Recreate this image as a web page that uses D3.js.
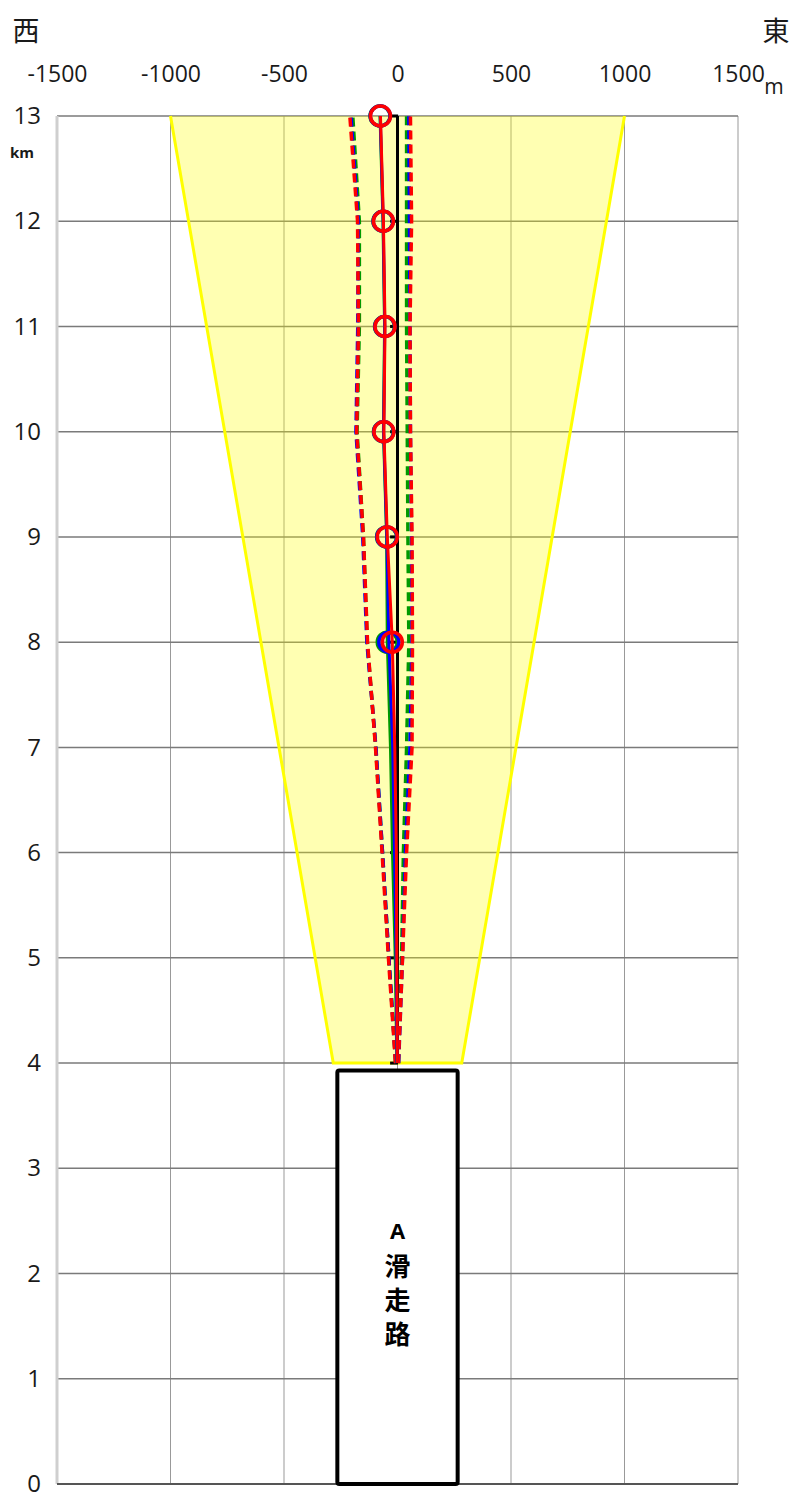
<!DOCTYPE html>
<html>
<head>
<meta charset="utf-8">
<script src="https://cdn.jsdelivr.net/npm/d3@7"></script>
<style>
  body { margin: 0; background: #fff; }
  svg text { font-family: "Open Sans", "Noto Sans", sans-serif; fill: #1a1a1a; }
  .cjk { font-family: "Noto Sans CJK JP", sans-serif !important; }
</style>
</head>
<body>
<div id="chart"></div>
<script>
// distance from threshold (km)
const kms = [4, 5, 6, 7, 8, 9, 10, 11, 12, 13];
// lateral position (m), negative = west
const redMean = [-1, -3, -5, -12, -23, -45, -60, -55, -62, -75];
const blueMean = [-2, -6, -13, -21, -38, -47, -61, -56, -63, -76];
const greenMean = [-3, -10, -22, -31, -45, -48, -62, -57, -64, -77];
const redLower = [-9, -40, -68, -97, -132, -150, -180, -172, -176, -210];
const blueLower = [-8, -38, -66, -95, -135, -153, -183, -175, -173, -205];
const greenLower = [-8, -38, -66, -96, -133, -150, -178, -168, -168, -197];
const redUpper = [4, 22, 40, 64, 66, 64, 57, 55, 62, 57];
const blueUpper = [5, 22, 35, 55, 64, 62, 57, 55, 53, 50];
const greenUpper = [4, 18, 26, 40, 50, 46, 43, 40, 40, 40];
const markerKms = [8, 9, 10, 11, 12, 13];
const centerTickOffset = -15;

const xTicks = [-1500, -1000, -500, 0, 500, 1000, 1500];
const yTicks = [0, 1, 2, 3, 4, 5, 6, 7, 8, 9, 10, 11, 12, 13];

const approachX = [-1000, -283, 283, 1000];
const approachKm = [13, 4, 4, 13];
const runwayX = [-265, 265];
const runwayKm = [0, 3.93];
const runwayLabel = ["A", "滑", "走", "路"];

const width = 791, height = 1494;
const x = d3.scaleLinear().domain([-1500, 1500]).range([57, 738]);
const y = d3.scaleLinear().domain([0, 13]).range([1484, 116]);

const svg = d3.select("#chart").append("svg")
  .attr("width", width)
  .attr("height", height);

// grid
svg.append("g").selectAll("line")
  .data(xTicks.slice(1))
  .join("line")
  .attr("x1", d => x(d)).attr("x2", d => x(d))
  .attr("y1", y(13)).attr("y2", y(0))
  .attr("stroke", "#999").attr("stroke-width", 1);

svg.append("g").selectAll("line")
  .data(yTicks.slice(1))
  .join("line")
  .attr("x1", x(-1500)).attr("x2", x(1500))
  .attr("y1", d => y(d)).attr("y2", d => y(d))
  .attr("stroke", "#7a7a7a").attr("stroke-width", 1.5);

svg.append("line")
  .attr("x1", x(-1500)).attr("x2", x(-1500))
  .attr("y1", y(13)).attr("y2", y(0))
  .attr("stroke", "#cfcfcf").attr("stroke-width", 3);
svg.append("line")
  .attr("x1", x(-1500)).attr("x2", x(1500))
  .attr("y1", y(0)).attr("y2", y(0))
  .attr("stroke", "#555").attr("stroke-width", 2);

// approach area
const approach = approachX.map((v, i) => [x(v), y(approachKm[i])]);
svg.append("path")
  .attr("d", d3.line()(approach) + "Z")
  .attr("fill", "#ffff00").attr("fill-opacity", 0.3);
svg.append("path")
  .attr("d", d3.line()(approach))
  .attr("fill", "none").attr("stroke", "#ffff00").attr("stroke-width", 3);

// runway
svg.append("rect")
  .attr("x", x(runwayX[0])).attr("y", y(runwayKm[1]))
  .attr("width", x(runwayX[1]) - x(runwayX[0]))
  .attr("height", y(runwayKm[0]) - y(runwayKm[1]))
  .attr("rx", 2)
  .attr("fill", "#fff").attr("stroke", "#000").attr("stroke-width", 4);

svg.append("g").selectAll("text")
  .data(runwayLabel)
  .join("text")
  .attr("class", (d, i) => i ? "cjk" : null)
  .attr("x", x(0))
  .attr("y", (d, i) => 1239 + i * 34 + (i ? 3 : 0))
  .attr("text-anchor", "middle")
  .attr("font-weight", "bold")
  .attr("font-size", (d, i) => i ? 26 : 22)
  .style("fill", "#000")
  .text(d => d);

// centre line
svg.append("line")
  .attr("x1", x(0)).attr("x2", x(0))
  .attr("y1", y(4)).attr("y2", y(13))
  .attr("stroke", "#000").attr("stroke-width", 3);
svg.append("g").selectAll("rect")
  .data(kms)
  .join("rect")
  .attr("x", x(centerTickOffset) - 4)
  .attr("y", d => y(d) - 1.5)
  .attr("width", 8).attr("height", 3)
  .attr("fill", "#000");

const line = d3.line().x(d => x(d[0])).y(d => y(d[1]));
const series = [
  { color: "#009a00", mean: greenMean, lower: greenLower, upper: greenUpper },
  { color: "#0000ff", mean: blueMean, lower: blueLower, upper: blueUpper },
  { color: "#ff0000", mean: redMean, lower: redLower, upper: redUpper }
];

series.forEach(s => {
  [s.lower, s.upper].forEach(vals => {
    svg.append("path")
      .attr("d", line(vals.map((v, i) => [v, kms[i]])))
      .attr("fill", "none")
      .attr("stroke", s.color)
      .attr("stroke-width", 3.5)
      .attr("stroke-dasharray", "9,5");
  });
});

series.forEach(s => {
  svg.append("path")
    .attr("d", line(s.mean.map((v, i) => [v, kms[i]])))
    .attr("fill", "none")
    .attr("stroke", s.color)
    .attr("stroke-width", 3);
  svg.append("g").selectAll("circle")
    .data(markerKms)
    .join("circle")
    .attr("cx", k => x(s.mean[kms.indexOf(k)]))
    .attr("cy", k => y(k))
    .attr("r", 10)
    .attr("fill", "none")
    .attr("stroke", s.color)
    .attr("stroke-width", 3.5);
});

// axes
const xAxis = svg.append("g")
  .attr("transform", "translate(0,90)")
  .call(d3.axisTop(x).tickValues(xTicks).tickSize(0).tickPadding(8).tickFormat(d => String(d)));
xAxis.select(".domain").remove();
xAxis.selectAll("text").attr("font-size", 23).style("font-family", "'Open Sans', sans-serif");

const yAxis = svg.append("g")
  .attr("transform", `translate(${x(-1500)},0)`)
  .call(d3.axisLeft(y).tickValues(yTicks).tickSize(0).tickPadding(16).tickFormat(d => String(d)));
yAxis.select(".domain").remove();
yAxis.selectAll("text").attr("font-size", 24).style("font-family", "'Open Sans', sans-serif");

svg.append("text").attr("x", 774).attr("y", 94)
  .attr("text-anchor", "middle").attr("font-size", 21).text("m");
svg.append("text").attr("x", 22).attr("y", 158)
  .attr("text-anchor", "middle").attr("font-size", 15).attr("font-weight", "bold").text("km");
svg.append("text").attr("class", "cjk").attr("x", 26).attr("y", 41)
  .attr("text-anchor", "middle").attr("font-size", 27).text("西");
svg.append("text").attr("class", "cjk").attr("x", 776).attr("y", 41)
  .attr("text-anchor", "middle").attr("font-size", 27).text("東");
</script>
</body>
</html>
